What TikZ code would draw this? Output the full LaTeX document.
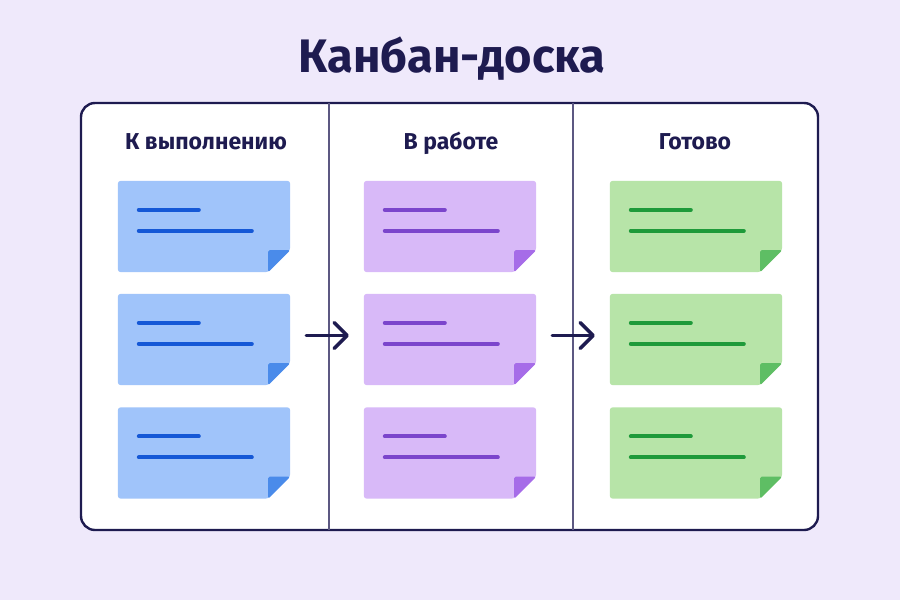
\documentclass[tikz,border=0pt]{standalone}
\usepackage{fontspec}
\setmainfont{Fira Sans}
\usetikzlibrary{arrows.meta}

\definecolor{bgcol}{HTML}{EFE9FB}
\definecolor{navy}{HTML}{1E1B50}
\definecolor{rulecol}{HTML}{5C5882}
\definecolor{bluefill}{HTML}{A0C4FA}
\definecolor{blueline}{HTML}{1558D6}
\definecolor{bluefold}{HTML}{4A8BEA}
\definecolor{purplefill}{HTML}{D8B9F8}
\definecolor{purpleline}{HTML}{7B45CC}
\definecolor{purplefold}{HTML}{A66CE8}
\definecolor{greenfill}{HTML}{B7E4A8}
\definecolor{greenline}{HTML}{1E9A3A}
\definecolor{greenfold}{HTML}{5EBE64}

\tikzset{
  board/.style={draw=navy, line width=2.4pt, fill=white, rounded corners=14pt,
    minimum width=737pt, minimum height=427pt, inner sep=0pt},
  notebox/.style={minimum width=172pt, minimum height=91pt, inner sep=0pt},
  noteline/.style={line width=4pt, line cap=round},
  divider/.style={draw=rulecol, line width=1.1pt},
  colhead/.style={anchor=base, text=navy, font=\fontsize{23}{27}\selectfont\bfseries},
  movearrow/.style={draw=navy, line width=3.4pt, line cap=round,
    -{Straight Barb[round, length=13pt, width=26pt]}},
}

% sticky note: name, colour prefix, centre
\newcommand\stickynote[3]{%
  \node[notebox] (#1) at (#3) {};
  \fill[#2fill, rounded corners=3pt] (#1.north west) -- (#1.north east)
    -- ([yshift=22pt]#1.south east) -- ([xshift=-22pt]#1.south east)
    -- (#1.south west) -- cycle;
  \fill[#2fold, rounded corners=1.5pt] ([xshift=-22pt,yshift=22pt]#1.south east)
    -- ([yshift=22pt]#1.south east) -- ([xshift=-22pt]#1.south east) -- cycle;
  \draw[noteline, #2line] ([xshift=21pt,yshift=-29pt]#1.north west) -- ++(60,0);
  \draw[noteline, #2line] ([xshift=21pt,yshift=-50pt]#1.north west) -- ++(113,0);
}

\begin{document}
\begin{tikzpicture}[x=1pt, y=-1pt]
  \fill[bgcol] (0,0) rectangle (900,600);
  \useasboundingbox (0,0) rectangle (900,600);

  \node[anchor=base, text=navy, font=\fontsize{47}{54}\selectfont\bfseries]
    (title) at (452,72) {Канбан-доска};

  \node[board] (board) at (449.5,316.5) {};
  \draw[divider] (329,103) -- (329,530);
  \draw[divider] (573,103) -- (573,530);

  \node[colhead] (todo) at (206,149) {К выполнению};
  \node[colhead] (prog) at (451,149) {В работе};
  \node[colhead] (done) at (695,149) {Готово};

  \stickynote{todo1}{blue}{204,226.5}
  \stickynote{todo2}{blue}{204,339.5}
  \stickynote{todo3}{blue}{204,453}
  \stickynote{prog1}{purple}{450,226.5}
  \stickynote{prog2}{purple}{450,339.5}
  \stickynote{prog3}{purple}{450,453}
  \stickynote{done1}{green}{696,226.5}
  \stickynote{done2}{green}{696,339.5}
  \stickynote{done3}{green}{696,453}

  \draw[movearrow] ([shift={(16pt,4pt)}]todo2.east) -- ([shift={(-15pt,4pt)}]prog2.west);
  \draw[movearrow] ([shift={(16pt,4pt)}]prog2.east) -- ([shift={(-15pt,4pt)}]done2.west);
\end{tikzpicture}
\end{document}
